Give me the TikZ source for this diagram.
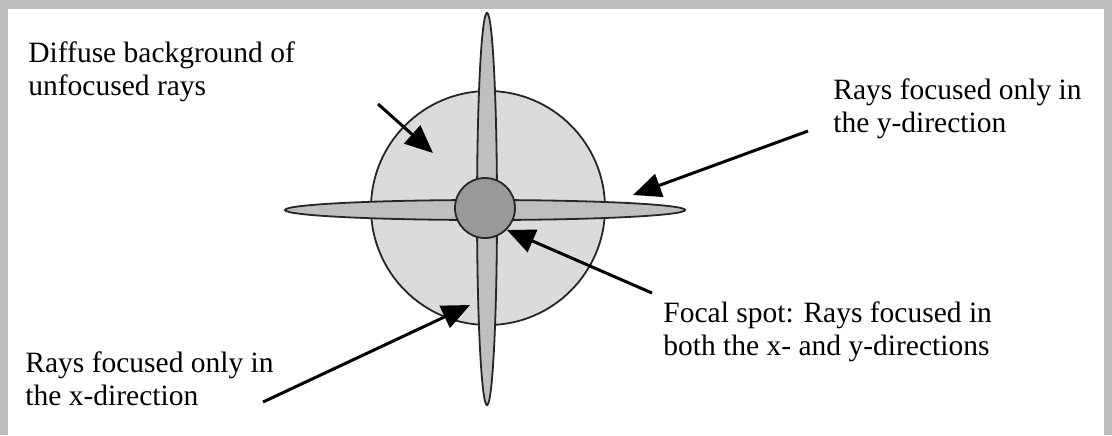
\documentclass[tikz,border=0pt]{standalone}
\usepackage{fontspec}
\setmainfont{Liberation Serif}
\usetikzlibrary{arrows.meta,positioning,shapes.geometric}
\definecolor{halofill}{gray}{0.86}
\definecolor{rayfill}{gray}{0.75}
\definecolor{spotfill}{gray}{0.60}
\definecolor{framegray}{gray}{0.74}

\begin{document}
\begin{tikzpicture}[
    x=0.5pt, y=-0.5pt,
    callout/.style={
      align=left,
      anchor=base west,
      inner sep=0pt,
      font=\fontsize{14.75}{16.5}\selectfont
    },
    patch/.style={draw=black!85, line width=0.9pt, inner sep=0pt},
    pointer/.style={-{Triangle[length=14pt,width=12pt]}, line width=1.5pt}
  ]
    \useasboundingbox (0,0) rectangle (1112,435);
    % frame and its shadow
    \fill[framegray] (0,0) rectangle (1112,435);
    \fill[white] (8,9) rectangle (1104,435);

    % the spot pattern
    \node[patch, circle, fill=halofill, minimum size=117pt] (halo) at (488,208) {};
    \node[patch, ellipse, fill=rayfill, minimum width=200pt, minimum height=10pt] (xray) at (485,210) {};
    \node[patch, ellipse, fill=rayfill, minimum width=10pt, minimum height=196pt] (yray) at (487,209) {};
    \node[patch, circle, fill=spotfill, minimum size=30pt] (focus) at (485,208) {};

    % labels (placed by the baseline of their last line)
    \node[callout] (diffuse) at (28,95) {Diffuse background of\\unfocused rays};
    \node[callout] (yonly) at (833,132) {Rays focused only in\\the y-direction};
    \node[callout] (xonly) at (25,405) {Rays focused only in\\the x-direction};
    \node[callout] (spot) at (663,355) {Focal spot: Rays focused in\\both the x- and y-directions};

    % arrow ends
    \coordinate (diffuse tail) at (378,104);
    \coordinate (diffuse tip) at (433,153);
    \coordinate (yonly tail) at (808,131);
    \coordinate (yonly tip) at (633,195);
    \coordinate (xonly tail) at (263,402);
    \coordinate (xonly tip) at (470,305);
    \coordinate (spot tail) at (652,293);

    \draw[pointer] (diffuse tail) -- (diffuse tip);
    \draw[pointer] (yonly tail) -- (yonly tip);
    \draw[pointer] (xonly tail) -- (xonly tip);
    \draw[pointer] (spot tail) -- (focus.-45);
\end{tikzpicture}
\end{document}
